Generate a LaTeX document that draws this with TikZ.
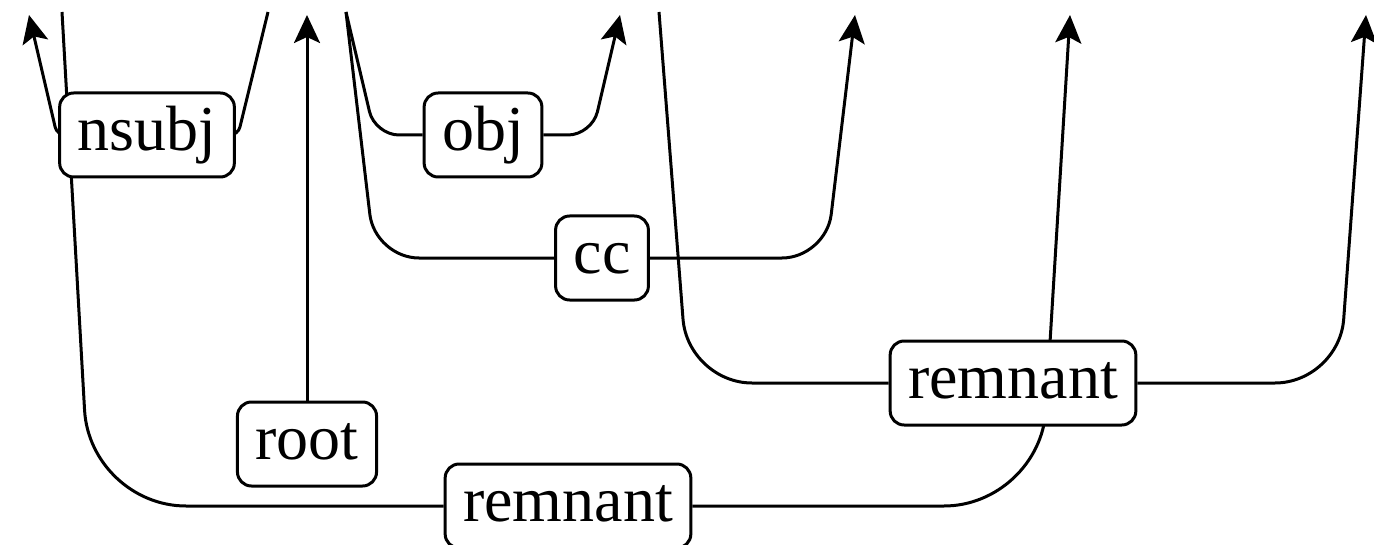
\documentclass[tikz,border=0pt]{standalone}
\usepackage{fontspec}
\setmainfont{Liberation Serif}
\usetikzlibrary{arrows.meta,backgrounds}
\tikzset{>={Stealth[length=14pt,width=13pt,inset=3pt]}}
\tikzset{
  deplabel/.style={draw, fill=white, line width=1.5pt, rounded corners=7pt,
    inner xsep=9pt, inner ysep=6.75pt, text height=22pt, text depth=6.5pt,
    font=\fontsize{32pt}{38pt}\selectfont},
  depedge/.style={line width=1.5pt, rounded corners=#1},
}

\begin{document}
\begin{tikzpicture}[x=0.5pt,y=-0.5pt]
  \useasboundingbox (0,0) rectangle (1374,545);

  % word anchors along the top edge
  \coordinate (w1in)  at (29,15);
  \coordinate (w1out) at (62,12);
  \coordinate (w2out) at (268,12);
  \coordinate (w2in)  at (307,15);
  \coordinate (w3out) at (346,12);
  \coordinate (w4in)  at (620,15);
  \coordinate (w5out) at (659,12);
  \coordinate (w6in)  at (855,15);
  \coordinate (w7in)  at (1070,15);
  \coordinate (w8in)  at (1366,15);

  % relation labels
  \node[deplabel] (nsubj) at (147,135) {nsubj};
  \node[deplabel] (obj)   at (483,135) {obj};
  \node[deplabel] (cc)    at (602,258) {cc};
  \node[deplabel] (root)  at (307,444) {root};
  \node[deplabel] (remR)  at (1013,383) {remnant};
  \node[deplabel] (remB)  at (568,506) {remnant};

  \begin{scope}[on background layer]
    % short arcs
    \draw[depedge=4pt] (w2out) -- (238,135) -- (nsubj.east);
    \draw[depedge=4pt,->] (nsubj.west) -- (57,135) -- (w1in);
    \draw[depedge=12pt] (w3out) -- (375,135) -- (obj.west);
    \draw[depedge=12pt,->] (obj.east) -- (592,135) -- (w4in);
    \draw[depedge=22pt] (w3out) -- (375,258) -- (cc.west);
    \draw[depedge=22pt,->] (cc.east) -- (826,258) -- (w6in);

    % root
    \draw[depedge=0pt,->] (root.north) -- (w2in);

    % long arcs
    \draw[depedge=32pt] (w5out) -- (688,383) -- (remR.west);
    \draw[depedge=32pt,->] (remR.east) -- (1339,383) -- (w8in);
    \draw[depedge=48pt] (w1out) -- (90,506) -- (remB.west);
    \draw[depedge=48pt,->] (remB.east) -- (1040,506) -- (w7in);
  \end{scope}
\end{tikzpicture}
\end{document}
